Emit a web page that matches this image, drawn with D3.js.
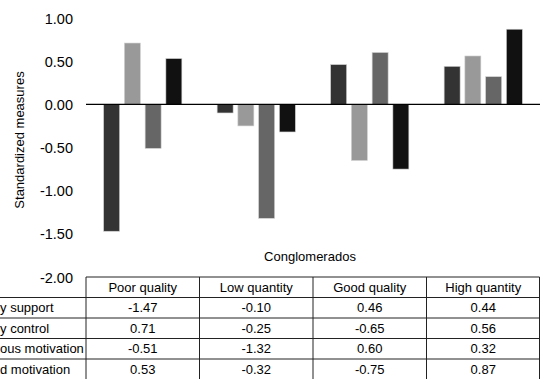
<!DOCTYPE html>
<html>
<head>
<meta charset="utf-8">
<script src="https://d3js.org/d3.v7.min.js"></script>
<style>
  body { margin: 0; background: #fff; }
  text { font-family: "Liberation Sans", Arial, sans-serif; fill: #000; }
</style>
</head>
<body>
<svg class="target"></svg>
<script>

// data
clusters = ['Poor quality', 'Low quantity', 'Good quality', 'High quantity']
seriesNames = ['Autonomy support', 'Autonomy control', 'Autonomous motivation', 'Controlled motivation']
autonomySupport = [-1.47, -0.10, 0.46, 0.44]
autonomyControl = [0.71, -0.25, -0.65, 0.56]
autonomousMotivation = [-0.51, -1.32, 0.60, 0.32]
controlledMotivation = [0.53, -0.32, -0.75, 0.87]
yTicks = [1, 0.5, 0, -0.5, -1, -1.5, -2]
barColors = ['#333333', '#999999', '#666666', '#111111']

seriesValues = [autonomySupport, autonomyControl, autonomousMotivation, controlledMotivation]

width = 540
height = 379
margin = ({ top: 18, right: 0, bottom: 102, left: 86 })

// plain hyphen minus, like the original
fmt = d => d.toFixed(2)

const svg = d3.select('.target')
    .attr('width', width)
    .attr('height', height)

x0 = d3.scaleBand(clusters, [margin.left, width - margin.right])

x1 = d3.scaleBand(d3.range(seriesNames.length), [0, x0.bandwidth()])
    .paddingInner(0.23)
    .paddingOuter(0.85)

yScale = d3.scaleLinear([-2, 1], [height - margin.bottom, margin.top])

// flatten into one row per bar
bars = []
seriesValues.forEach((vals, s) => {
  vals.forEach((v, c) => bars.push({ s: s, cluster: clusters[c], value: v }))
})

svg.append('g')
  .selectAll('rect')
  .data(bars)
  .join('rect')
    .attr('x', d => x0(d.cluster) + x1(d.s))
    .attr('y', d => yScale(Math.max(0, d.value)))
    .attr('width', x1.bandwidth())
    .attr('height', d => Math.abs(yScale(d.value) - yScale(0)))
    .attr('fill', d => barColors[d.s])
    .attr('stroke', '#d0d0d0')
    .attr('stroke-width', 0.6)

// zero line
svg.append('line')
    .attr('x1', margin.left).attr('x2', width)
    .attr('y1', yScale(0)).attr('y2', yScale(0))
    .attr('stroke', '#000').attr('stroke-width', 1.2)

// y axis, labels only
yAxis = d3.axisLeft(yScale)
    .tickValues(yTicks)
    .tickFormat(fmt)
    .tickSize(0)
    .tickPadding(0)

const yg = svg.append('g')
    .attr('transform', `translate(73,0)`)
    .call(yAxis)
yg.select('.domain').remove()
yg.selectAll('text')
    .style('font-size', '14.5px')
    .style('font-family', '"Liberation Sans", Arial, sans-serif')
    .attr('fill', '#000')
    .attr('dy', '0.35em')

svg.append('text')
    .attr('transform', `translate(24,140) rotate(-90)`)
    .attr('text-anchor', 'middle')
    .style('font-size', '13px')
    .text('Standardized measures')

svg.append('text')
    .attr('x', 310).attr('y', 261)
    .attr('text-anchor', 'middle')
    .style('font-size', '13px')
    .text('Conglomerados')

// data table under the plot
tableTop = yScale(-2)
rowH = 20.5
labelX = -52
lineColor = '#222'

const table = svg.append('g')

// header cells
table.selectAll('text.head')
  .data(clusters)
  .join('text')
    .attr('class', 'head')
    .attr('x', d => x0(d) + x0.bandwidth() / 2)
    .attr('y', tableTop + rowH / 2)
    .attr('dy', '0.35em')
    .attr('text-anchor', 'middle')
    .style('font-size', '13px')
    .text(d => d)

// body rows, the row names run off the left edge as in the original
seriesValues.forEach((vals, s) => {
  const yMid = tableTop + rowH * (s + 1.5)
  table.append('text')
      .attr('x', labelX)
      .attr('y', yMid)
      .attr('dy', '0.35em')
      .style('font-size', '13px')
      .text(seriesNames[s])
  table.selectAll(null)
    .data(vals)
    .join('text')
      .attr('x', (d, i) => x0(clusters[i]) + x0.bandwidth() / 2)
      .attr('y', yMid)
      .attr('dy', '0.35em')
      .attr('text-anchor', 'middle')
      .style('font-size', '13px')
      .text(fmt)
})

// horizontal rules
table.append('line')
    .attr('x1', margin.left).attr('x2', width - 0.5)
    .attr('y1', tableTop).attr('y2', tableTop)
    .attr('stroke', lineColor)
d3.range(1, seriesNames.length + 2).forEach(r => {
  table.append('line')
      .attr('x1', 0).attr('x2', width - 0.5)
      .attr('y1', tableTop + rowH * r).attr('y2', tableTop + rowH * r)
      .attr('stroke', lineColor)
})

// vertical rules
colEdges = clusters.map(c => x0(c)).concat([width - 0.5])
table.selectAll('line.col')
  .data(colEdges)
  .join('line')
    .attr('class', 'col')
    .attr('x1', d => d).attr('x2', d => d)
    .attr('y1', tableTop).attr('y2', tableTop + rowH * (seriesNames.length + 1))
    .attr('stroke', lineColor)

</script>
</body>
</html>
